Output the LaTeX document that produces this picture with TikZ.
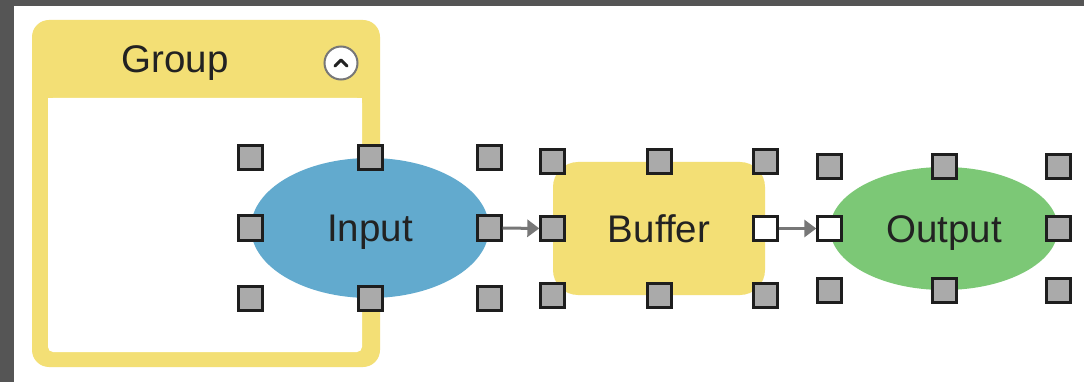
\documentclass[tikz,border=0pt]{standalone}
\usepackage{fontspec}
\setmainfont{Liberation Sans}
\usetikzlibrary{shapes.geometric,arrows.meta}
\definecolor{bgdark}{HTML}{555555}
\definecolor{gyellow}{HTML}{F3DF75}
\definecolor{inblue}{HTML}{62AACE}
\definecolor{outgreen}{HTML}{7CC876}
\definecolor{handlefill}{HTML}{AAAAAA}
\definecolor{handleborder}{HTML}{1E1E1E}
\definecolor{textdark}{HTML}{222222}
\definecolor{conngray}{HTML}{777777}
\definecolor{btngray}{HTML}{777777}
\newcommand\placehandles[3]{%
  \node[handle] (#1-nw) at (#1.north -| #1.west) {};
  \node[handle] (#1-n)  at (#1.north) {};
  \node[handle] (#1-ne) at (#1.north -| #1.east) {};
  \node[handle,#2] (#1-w)  at (#1.west) {};
  \node[handle,#3] (#1-e)  at (#1.east) {};
  \node[handle] (#1-sw) at (#1.south -| #1.west) {};
  \node[handle] (#1-s)  at (#1.south) {};
  \node[handle] (#1-se) at (#1.south -| #1.east) {};
}
\begin{document}
\begin{tikzpicture}[x=1pt,y=-1pt,
  handle/.style={rectangle, draw=handleborder, fill=handlefill, line width=3pt, minimum size=24pt, inner sep=0pt},
  whitefill/.style={fill=white},
  plain/.style={},
  lbl/.style={font=\fontsize{38.5}{40}\selectfont, text=textdark, text height=27.6pt, text depth=0pt, inner sep=0pt},
  conn/.style={draw=conngray, line width=3pt, -{Triangle[length=12pt,width=17pt]}},
]
\useasboundingbox (0,0) rectangle (1084,382);
\fill[bgdark] (0,0) rectangle (1084,382);
\fill[white] (14,6) rectangle (1084,382);
% group
\node[fill=gyellow, rounded corners=17pt, minimum width=348pt, minimum height=347pt, inner sep=0pt] (group) at (206,193.5) {};
\fill[white, rounded corners=5pt] (48,98) rectangle (362,352);
\fill[white] (48,98) rectangle (362,115);
\node[lbl] (grouplabel) at (175,59) {Group};
\node[circle, draw=btngray, fill=white, line width=2pt, minimum size=33pt, inner sep=0pt] (collapse) at (341,63) {};
\draw[textdark, line width=3pt, line cap=round, line join=round]
  ([shift={(-6,3)}]collapse.center) -- ([shift={(0,-3)}]collapse.center) -- ([shift={(6,3)}]collapse.center);
% shapes
\node[ellipse, fill=inblue, minimum width=238pt, minimum height=140pt, lbl] (input) at (370,228) {Input};
\node[rectangle, rounded corners=25pt, fill=gyellow, minimum width=212pt, minimum height=133pt, lbl] (buffer) at (659,228.5) {Buffer};
\node[ellipse, fill=outgreen, minimum width=228pt, minimum height=123pt, lbl] (output) at (944,228.5) {Output};
% handles
\placehandles{input}{plain}{plain}
\placehandles{buffer}{plain}{whitefill}
\placehandles{output}{whitefill}{plain}
% connectors
\draw[conn] (input-e) -- (buffer-w);
\draw[conn] (buffer-e) -- (output-w);
\end{tikzpicture}
\end{document}
